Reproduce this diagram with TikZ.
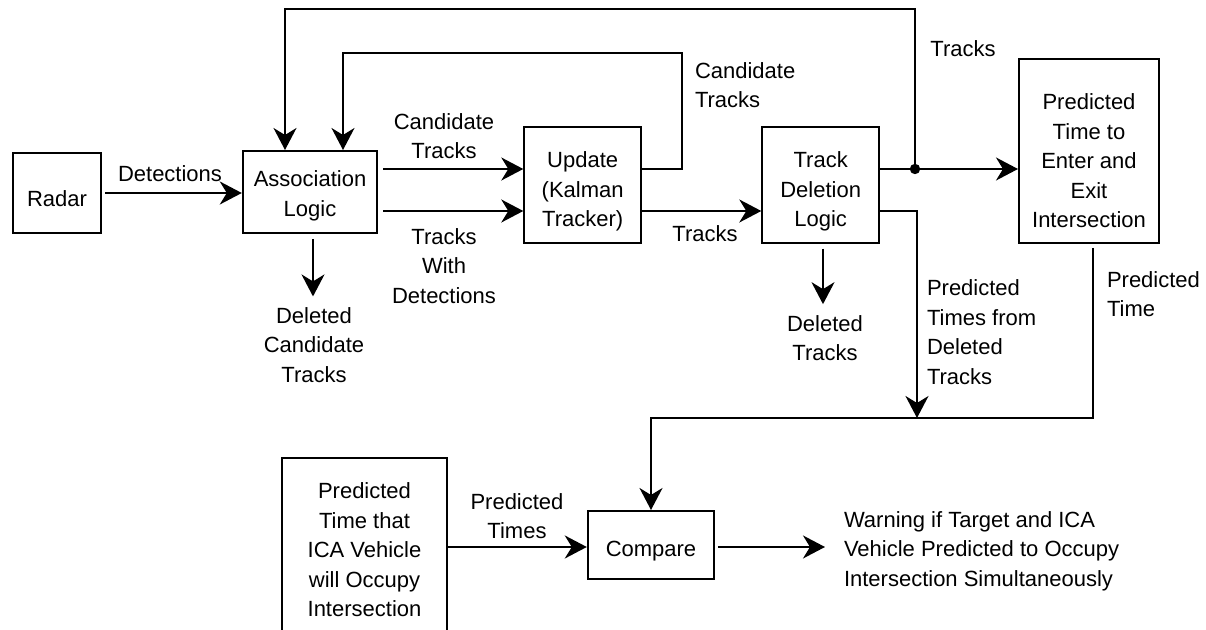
\documentclass[tikz,border=0pt]{standalone}
\usepackage{fontspec}
\setmainfont{Liberation Sans}
\usetikzlibrary{arrows.meta}
\newcommand{\sink}[1]{\rule{0pt}{#1}}

\begin{document}
\begin{tikzpicture}[x=0.5pt,y=-0.5pt,line width=1pt,
    font=\fontsize{11}{14.75}\selectfont,
    blk/.style={draw,align=center,inner sep=0pt},
    lbl/.style={align=center,inner sep=0pt},
    lbll/.style={align=left,inner sep=0pt,anchor=west},
    flow/.style={-{Stealth[length=11pt,width=11.5pt,inset=3.5pt]}}]
    \useasboundingbox (0,0) rectangle (1206,630);
    \clip (0,0) rectangle (1206,630);
    % blocks
    \node[blk,minimum width=44.4pt,minimum height=40pt] (radar) at (57,193) {\sink{14pt}Radar};
    \node[blk,minimum width=67.2pt,minimum height=41pt] (assoc) at (310,192) {\sink{12pt}Association\\Logic};
    \node[blk,minimum width=58.4pt,minimum height=58pt] (update) at (582.7,184.7) {\sink{15pt}Update\\(Kalman\\Tracker)};
    \node[blk,minimum width=58.4pt,minimum height=58pt] (trackdel) at (820.7,184.7) {\sink{15pt}Track\\Deletion\\Logic};
    \node[blk,minimum width=70pt,minimum height=91.8pt] (predict) at (1089,151) {\sink{18pt}Predicted\\Time to\\Enter and\\Exit\\Intersection};
    \node[blk,minimum width=82.2pt,minimum height=91.8pt] (icabox) at (364.5,550) {Predicted\\Time that\\ICA Vehicle\\will Occupy\\Intersection};
    \node[blk,minimum width=63.2pt,minimum height=34pt] (compare) at (651,545) {\sink{14pt}Compare};
    % labels
    \node[lbl] (ldet) at (170,174) {Detections};
    \node[lbl] (lcand) at (444,136) {Candidate\\Tracks};
    \node[lbl] (lwith) at (444,266) {Tracks\\With\\Detections};
    \node[lbl] (ltrk) at (705,234) {Tracks};
    \node[lbll] (lcandfb) at (694,85) {Candidate\\Tracks};
    \node[lbl] (ltrktop) at (963,49) {Tracks};
    \node[lbl] (delcand) at (314,345) {Deleted\\Candidate\\Tracks};
    \node[lbl] (deltrk) at (825,338) {Deleted\\Tracks};
    \node[lbll] (ldeltimes) at (926,332) {Predicted\\Times from\\Deleted\\Tracks};
    \node[lbll] (lptime) at (1106,294) {Predicted\\Time};
    \node[lbl] (lptimes) at (517,516) {Predicted\\Times};
    \node[lbll] (warning) at (843,551) {Warning if Target and ICA\\Vehicle Predicted to Occupy\\Intersection Simultaneously};
    % connectors
    \coordinate (split) at (915,169);
    \coordinate (merge) at (917,418);
    \draw[flow,shorten <=1.5pt] (radar.east) -- (radar.east -| assoc.west);
    \draw[flow,shorten <=2.5pt] (assoc.east |- 0,169) -- (update.west |- 0,169);
    \draw[flow,shorten <=2.5pt] (assoc.east |- 0,211) -- (update.west |- 0,211);
    \draw[flow] (update.east |- 0,211) -- (trackdel.west |- 0,211);
    \draw[flow] (update.east |- 0,169) -- (682,169) -- (682,53) -- (343,53) -- (343,0 |- assoc.north);
    \draw[flow] (trackdel.east |- split) -- (split -| predict.west);
    \draw[flow] (split) -- (915,9) -- (285,9) -- (285,0 |- assoc.north);
    \fill (split) circle[radius=2.6pt];
    \draw[flow,shorten <=2.5pt,shorten >=5pt] (313,0 |- assoc.south) -- (313,0 |- delcand.north);
    \draw[flow,shorten <=2.5pt,shorten >=5pt] (823,0 |- trackdel.south) -- (823,0 |- deltrk.north);
    \draw[flow] (trackdel.east |- 0,211) -- (merge |- 0,211) -- (merge);
    \draw[flow,shorten <=2pt] (1092.7,0 |- predict.south) -- (1092.7,0 |- merge) -- (compare.north |- merge) -- (compare.north);
    \draw[flow] (icabox.east |- 0,547) -- (compare.west |- 0,547);
    \draw[flow,shorten <=1.3pt,shorten >=9pt] (compare.east |- 0,547) -- (warning.west |- 0,547);
\end{tikzpicture}
\end{document}
